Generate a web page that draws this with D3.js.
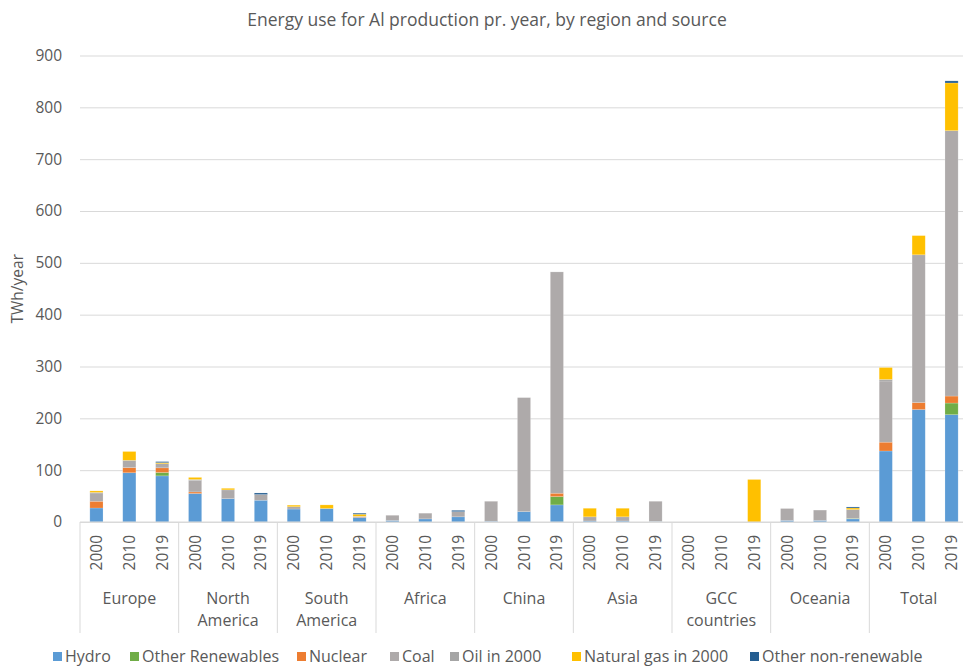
<!DOCTYPE html>
<html>
<head>
<meta charset="utf-8">
<script src="https://cdn.jsdelivr.net/npm/d3@7"></script>
<style>
  html, body { margin: 0; padding: 0; background: #fff; }
  svg { display: block; font-family: "Open Sans", sans-serif; }
</style>
</head>
<body>
<svg id="chart" width="963" height="666"></svg>
<script>
// Regions and years on the two-level category axis
const regions = ["Europe", "North America", "South America", "Africa", "China", "Asia", "GCC countries", "Oceania", "Total"];
const years = ["2000", "2010", "2019"];
const yTicks = [0, 100, 200, 300, 400, 500, 600, 700, 800, 900];

// Energy use in TWh/year, one value per region-year (region-major order)
const hydro       = [27, 95, 89,   55, 45, 42,   25, 26, 9,    3, 6, 10,    1.5, 20, 33,     2, 2, 1,        0, 0, 0,    3, 3, 6,     137, 217, 207];
const otherRenew  = [0, 0, 6.5,    0, 0, 0,      0, 0, 0,      0, 0, 0,     0, 0, 16,        0, 0, 0,        0, 0, 0,    0, 0, 1,     0, 0, 22.5];
const nuclear     = [13, 10, 9,    3, 0, 0,      0, 0, 1,      0, 0, 0,     0, 0, 6.5,       0, 0, 0,        0, 0, 0,    0, 0, 0,     17, 13.5, 13.5];
const coal        = [16, 14, 8,    22, 17, 11,   4.5, 0, 1,    10, 11, 10,  38.5, 220, 427,  8, 8, 39,       0, 0, 0,    23, 20, 17,  118, 285, 512];
const oil2000     = [1, 0, 0,      2, 0, 0,      0, 0, 0,      0, 0, 0,     0, 0, 0,         0, 0, 0,        0, 0, 0,    0, 0, 0,     3, 0, 0];
const gas2000     = [3, 17, 2,     4, 3, 0,      3, 7, 4,      0, 0, 0,     0, 0, 0,         16.5, 16.5, 0,  0, 0, 82,   0, 0, 3,     23, 37, 92];
const otherNonRen = [0, 0, 2,      0, 0, 3,      0, 0, 2,      0, 0, 2.5,   0, 0, 0,         0, 0, 0,        0, 0, 0,    0, 0, 2,     0, 0, 4];

const seriesNames  = ["Hydro", "Other Renewables", "Nuclear", "Coal", "Oil in 2000", "Natural gas in 2000", "Other non-renewable"];
const seriesValues = [hydro, otherRenew, nuclear, coal, oil2000, gas2000, otherNonRen];
const seriesColors = ["#5B9BD5", "#70AD47", "#ED7D31", "#AEAAAA", "#A5A5A5", "#FFC000", "#255E91"];

// Build rows for d3.stack
const rows = [];
regions.forEach((r, ri) => years.forEach((yr, yi) => {
  const i = ri * years.length + yi;
  const row = { key: r + "|" + yr, region: r, year: yr };
  seriesNames.forEach((s, si) => { row[s] = seriesValues[si][i]; });
  rows.push(row);
}));

const svg = d3.select("#chart");
const textColor = "#595959";
const gridColor = "#D9D9D9";
const fontFamily = "'Open Sans', sans-serif";

const plotLeft = 80, plotRight = 968, plotTop = 55.5, plotBottom = 522, axisBottom = 633;

const x = d3.scaleBand()
  .domain(rows.map(d => d.key))
  .range([plotLeft, plotRight])
  .paddingInner(0.6)
  .paddingOuter(0.3);

const y = d3.scaleLinear().domain([0, 900]).range([plotBottom, plotTop]);

// Title
svg.append("text")
  .attr("x", 487).attr("y", 25.5)
  .attr("text-anchor", "middle")
  .attr("font-size", 17.5)
  .attr("fill", textColor)
  .text("Energy use for Al production pr. year, by region and source");

// Gridlines and value labels
const yAxis = svg.append("g")
  .attr("transform", `translate(${plotLeft},0)`)
  .call(d3.axisLeft(y).tickValues(yTicks).tickSize(-(plotRight - plotLeft)).tickPadding(18));
yAxis.select(".domain").remove();
yAxis.selectAll(".tick line").attr("stroke", gridColor).attr("stroke-width", 1);
yAxis.selectAll(".tick text")
  .attr("fill", textColor)
  .attr("font-size", 15.5)
  .attr("font-family", fontFamily);

// Axis title
svg.append("text")
  .attr("transform", `translate(23,${(plotTop + plotBottom) / 2}) rotate(-90)`)
  .attr("text-anchor", "middle")
  .attr("font-size", 15.5)
  .attr("fill", textColor)
  .text("TWh/year");

// Stacked bars
const stack = d3.stack().keys(seriesNames);
const layers = stack(rows);

svg.append("g").selectAll("g")
  .data(layers)
  .join("g")
  .attr("fill", (d, i) => seriesColors[i])
  .selectAll("rect")
  .data(d => d.filter(p => p[1] - p[0] > 0))
  .join("rect")
  .attr("x", d => x(d.data.key))
  .attr("width", x.bandwidth())
  .attr("y", d => y(d[1]))
  .attr("height", d => y(d[0]) - y(d[1]))
  .attr("stroke", "#fff")
  .attr("stroke-opacity", 0.3)
  .attr("stroke-width", 0.6);

// Category axis: baseline, group separators, year and region labels
const catAxis = svg.append("g");
catAxis.append("line")
  .attr("x1", plotLeft).attr("x2", plotRight)
  .attr("y1", plotBottom).attr("y2", plotBottom)
  .attr("stroke", gridColor);

const step = x.step();
regions.forEach((r, ri) => {
  const edge = x(rows[ri * 3].key) + x.bandwidth() / 2 - step / 2;
  catAxis.append("line")
    .attr("x1", edge).attr("x2", edge)
    .attr("y1", plotBottom).attr("y2", axisBottom)
    .attr("stroke", gridColor);
});

catAxis.selectAll("text.year")
  .data(rows)
  .join("text")
  .attr("class", "year")
  .attr("transform", d => `translate(${x(d.key) + x.bandwidth() / 2 + 5.5},535) rotate(-90)`)
  .attr("text-anchor", "end")
  .attr("font-size", 15.5)
  .attr("fill", textColor)
  .text(d => d.year);

regions.forEach((r, ri) => {
  const cx = x(rows[ri * 3 + 1].key) + x.bandwidth() / 2;
  const words = r.split(" ");
  const t = catAxis.append("text")
    .attr("text-anchor", "middle")
    .attr("font-size", 16)
    .attr("fill", textColor);
  words.forEach((w, wi) => {
    t.append("tspan").attr("x", cx).attr("y", 604 + wi * 21.5).text(w);
  });
});

// Legend
const legendX = [53, 130, 297, 390, 450, 572, 750];
const legend = svg.append("g").attr("transform", "translate(0,656)");
seriesNames.forEach((s, i) => {
  const g = legend.append("g").attr("transform", `translate(${legendX[i]},0)`);
  g.append("rect").attr("x", 0).attr("y", -4).attr("width", 9).attr("height", 9).attr("fill", seriesColors[i]);
  g.append("text").attr("x", 12).attr("y", 5.5)
    .attr("font-size", 16).attr("fill", textColor).text(s);
});
</script>
</body>
</html>
